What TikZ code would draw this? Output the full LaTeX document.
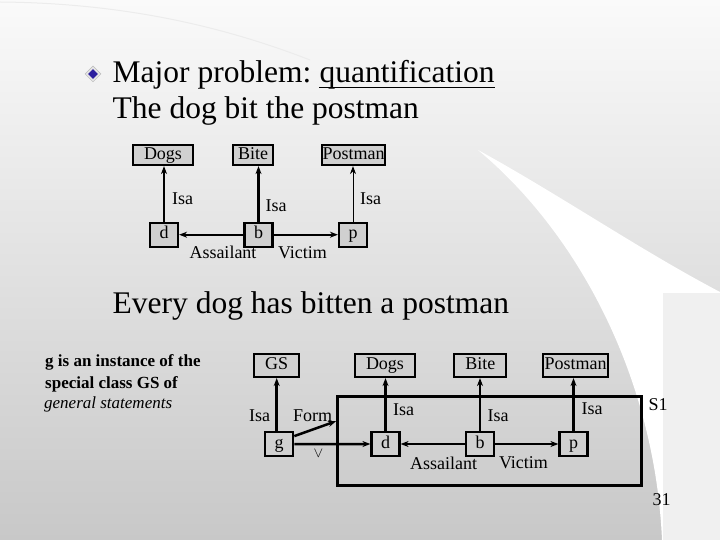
\documentclass[tikz,border=0pt]{standalone}
\usepackage{fontspec}
\setmainfont{Liberation Serif}
\usetikzlibrary{arrows.meta,shapes.geometric}
\definecolor{boxgray}{HTML}{D0D0D0}
\definecolor{bulletblue}{HTML}{2B1E9E}
\definecolor{bgtop}{HTML}{FAFAFA}
\definecolor{bgbot}{HTML}{C8C8C8}
\begin{document}
\begin{tikzpicture}[x=1pt,y=-1pt,
  every node/.style={inner sep=0pt},
  box/.style={draw, line width=2.2pt, fill=boxgray, font=\fontsize{18}{20}\selectfont, text height=12.5pt, text depth=4pt},
  lbl/.style={font=\fontsize{18}{20}\selectfont},
  big/.style={font=\fontsize{31.5}{38}\selectfont, anchor=base west},
  note/.style={font=\fontsize{17}{20}\selectfont\bfseries, anchor=base west},
  arr/.style={line width=2.2pt, -{Stealth[length=8pt,width=6pt]}},
  arrb/.style={line width=2.5pt, -{Stealth[length=8pt,width=6pt]}},
]
\useasboundingbox (0,0) rectangle (720,540);
% background
\shade[top color=bgtop, bottom color=bgbot] (0,0) rectangle (720,540);
\draw[gray!15, line width=1pt] (0,2) .. controls (120,3) and (220,25) .. (310,60);
\fill[white] (478,150) .. controls (580,235) and (655,380) .. (662,540) -- (720,540) -- (720,292) .. controls (640,250) and (560,195) .. (478,150) -- cycle;
\fill[gray!12] (663,293) rectangle (720,540);

% bullet and headings
\node[diamond, fill=gray!20, draw=gray!55, line width=0.5pt, minimum width=16pt, minimum height=16pt] (bul) at (93,74) {};
\node[diamond, fill=bulletblue, minimum width=10pt, minimum height=10pt] (bulin) at (bul) {};
\node[big] (t1) at (112.5,82.5) {Major problem:\ \mbox{}};
\node[big] (t1q) at (t1.base east) {quantification};
\draw[line width=1.5pt] ([yshift=-5pt]t1q.base west) -- ([yshift=-5pt]t1q.base east);
\node[big] (t2) at (112.5,118.5) {The dog bit the postman};
\node[big] (t3) at (112.5,313) {Every dog has bitten a postman};

% diagram 1
\node[box, minimum width=60.6pt, minimum height=20pt] (Dogs1) at (163,155) {Dogs};
\node[box, minimum width=40pt, minimum height=20pt] (Bite1) at (253,155) {Bite};
\node[box, minimum width=63.3pt, minimum height=20pt] (Post1) at (353.5,155) {Postman};
\node[box, minimum width=28pt, minimum height=24pt] (d1) at (164,234.7) {d};
\node[box, minimum width=28pt, minimum height=24pt] (b1) at (258.5,234.7) {b};
\node[box, minimum width=28pt, minimum height=24pt] (p1) at (353,234.7) {p};
\draw[arr] (d1.north) -- (d1.north |- Dogs1.south);
\draw[arr] (b1.north) -- (b1.north |- Bite1.south);
\draw[arr, line width=1pt] (p1.north) -- (p1.north |- Post1.south);
\draw[arr] (b1.west) -- (d1.east);
\draw[arr] (b1.east) -- (p1.west);
\node[lbl] (isa1) at (182.5,199) {Isa};
\node[lbl] (isa2) at (276,205.7) {Isa};
\node[lbl] (isa3) at (370.5,199) {Isa};
\node[lbl] (ass1) at (223,252.3) {Assailant};
\node[lbl] (vic1) at (302.5,252.3) {Victim};

% note
\node[note] (n1) at (45,366.7) {g is an instance of the};
\node[note] (n2) at (45,388.3) {special class GS of};
\node[note, font=\fontsize{17}{20}\selectfont\itshape] (n3) at (44,408.3) {general statements};

% diagram 2
\node[draw, line width=2.5pt, minimum width=304.4pt, minimum height=89pt] (frame) at (489.5,441.2) {};
\node[box, minimum width=45pt, minimum height=23pt] (GS) at (276.7,365.5) {GS};
\node[box, minimum width=60pt, minimum height=23pt] (Dogs2) at (385,365.5) {Dogs};
\node[box, minimum width=52pt, minimum height=23pt] (Bite2) at (480.3,365.5) {Bite};
\node[box, minimum width=65.6pt, minimum height=23pt] (Post2) at (575.5,365.5) {Postman};
\node[box, minimum width=28pt, minimum height=24pt] (g) at (279.2,444.2) {g};
\node[box, minimum width=28pt, minimum height=24pt] (d2) at (385.5,444) {d};
\node[box, minimum width=28pt, minimum height=24pt] (b2) at (480,444) {b};
\node[box, minimum width=28pt, minimum height=24pt] (p2) at (573.5,444) {p};
\draw[arrb] (GS.south |- g.north) -- (GS.south);
\draw[arrb] (d2.north) -- (d2.north |- Dogs2.south);
\draw[arrb] (b2.north) -- (b2.north |- Bite2.south);
\draw[arrb] (p2.north) -- (p2.north |- Post2.south);
\draw[arrb] (g.east) -- (d2.west);
\draw[arrb] (b2.west) -- (d2.east);
\draw[arrb] (b2.east) -- (p2.west);
\draw[arrb] ([yshift=-5pt]g.north east) -- ([yshift=20pt]frame.west);
\node[lbl] (isag) at (259.5,415.7) {Isa};
\node[lbl] (form) at (312.5,416) {Form};
\node[lbl, font=\fontsize{14}{16}\selectfont] (vee) at (318.4,453.5) {$\vee$};
\node[lbl] (isad) at (403.5,409.3) {Isa};
\node[lbl] (isab) at (498,415.7) {Isa};
\node[lbl] (isap) at (592.2,409) {Isa};
\node[lbl] (ass2) at (443.5,463) {Assailant};
\node[lbl] (vic2) at (523.5,463) {Victim};
\node[lbl] (s1) at (658,404.3) {S1};
\node[lbl] (num) at (661.5,500) {31};
\end{tikzpicture}
\end{document}
